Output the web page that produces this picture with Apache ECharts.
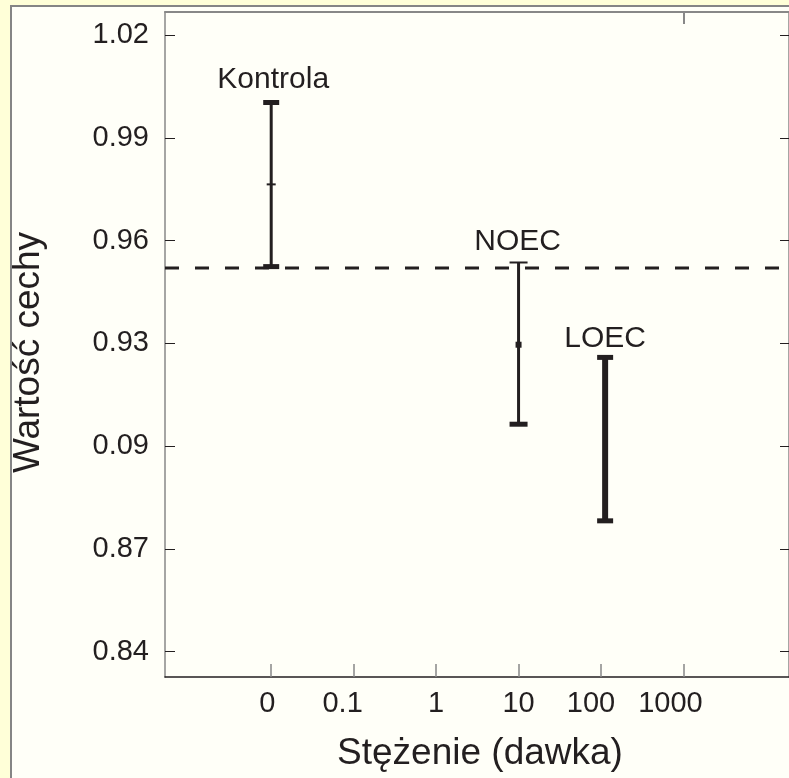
<!DOCTYPE html>
<html>
<head>
<meta charset="utf-8">
<script src="https://cdn.jsdelivr.net/npm/echarts@6/dist/echarts.min.js"></script>
<style>
  html, body { margin: 0; padding: 0; background: #FFFFD8; }
  #chart { width: 789px; height: 778px; }
</style>
</head>
<body>
<div id="chart"></div>
<script>
// kategorie na osi X (pozycje 0..5) i ich opisy
var xTickValues = [0, 1, 2, 3, 4, 5];
var xTickLabels = ['0', '0.1', '1', '10', '100', '1000'];

// osie Y - podziałka i opisy (opis "0.09" jak w oryginale)
var yTickValues = [0.84, 0.87, 0.90, 0.93, 0.96, 0.99, 1.02];
var yTickLabels = ['0.84', '0.87', '0.09', '0.93', '0.96', '0.99', '1.02'];

// przedziały
var barNames = ['Kontrola', 'NOEC', 'LOEC'];
var barX = [0, 3, 4.05];
var barLow = [0.9524, 0.9064, 0.8782];
var barHigh = [1.0003, 0.9536, 0.9259];
var barMid = [0.9764, 0.9296, null];

// linia odniesienia
var refLevel = 0.952;

var xMin = -1.288, xMax = 6.28;
var yMin = 0.83262, yMax = 1.02671;

var ink = '#231f20';
var font = 'Liberation Sans, Arial, Helvetica, sans-serif';

// wygląd poszczególnych słupków błędu
var barStyles = [
  { stem: 3, cap: 16, topCap: 5, bottomCap: 5, mid: 'tick', labelDx: 2, labelGap: 23 },
  { stem: 3, cap: 18, topCap: 2, bottomCap: 5, mid: 'square', labelDx: -1, labelGap: 21 },
  { stem: 6, cap: 16, topCap: 5, bottomCap: 5, mid: null, labelDx: 0, labelGap: 19 }
];

// przesunięcia opisów osi X (w oryginale nie są idealnie pod kreskami)
var xLabelShift = [-4, -11, 0, 0, -10, -13];

var barData = [];
for (var i = 0; i < barX.length; i++) {
  barData.push([barX[i], barLow[i], barHigh[i], barMid[i] == null ? '-' : barMid[i]]);
}

var xRich = {};
for (var k = 0; k < xTickLabels.length; k++) {
  var s = xLabelShift[k];
  xRich['s' + k] = {
    fontSize: 29, fontFamily: font, color: ink,
    padding: s < 0 ? [0, -2 * s, 0, 0] : [0, 0, 0, 2 * s]
  };
}

function yLabel(v) {
  for (var j = 0; j < yTickValues.length; j++) {
    if (Math.abs(yTickValues[j] - v) < 1e-6) return yTickLabels[j];
  }
  return '';
}

var chart = echarts.init(document.getElementById('chart'));
chart.setOption({
  backgroundColor: '#FFFFD8',
  animation: false,
  graphic: [{
    type: 'rect',
    z: -10,
    shape: { x: 11, y: 6, width: 800, height: 800 },
    style: { fill: '#FFFFF8', stroke: '#858585', lineWidth: 2 }
  }],
  grid: { left: 165, top: 12, right: -2, bottom: 101 },
  xAxis: [{
    type: 'value',
    min: xMin,
    max: xMax,
    name: 'Stężenie (dawka)',
    nameLocation: 'middle',
    nameGap: 58,
    nameTextStyle: { fontSize: 37, fontFamily: font, color: ink, padding: [0, 0, 0, 6] },
    splitLine: { show: false },
    axisLine: { show: true, onZero: false, lineStyle: { color: ink, width: 1.5 } },
    axisTick: { show: true, inside: true, length: 13, customValues: xTickValues, lineStyle: { color: '#888', width: 1.5 } },
    axisLabel: {
      customValues: xTickValues,
      margin: 12,
      rich: xRich,
      formatter: function (v) {
        var idx = xTickValues.indexOf(Math.round(v));
        return idx < 0 ? '' : '{s' + idx + '|' + xTickLabels[idx] + '}';
      }
    }
  }, {
    type: 'value',
    position: 'top',
    min: xMin,
    max: xMax,
    splitLine: { show: false },
    axisLine: { show: true, onZero: false, lineStyle: { color: '#888', width: 2 } },
    axisTick: { show: true, inside: true, length: 12, customValues: [5], lineStyle: { color: '#888', width: 2 } },
    axisLabel: { show: false }
  }],
  yAxis: [{
    type: 'value',
    min: yMin,
    max: yMax,
    name: 'Wartość cechy',
    nameLocation: 'middle',
    nameGap: 118,
    nameTextStyle: { fontSize: 37, fontFamily: font, color: ink, padding: [0, 16, 0, 0] },
    splitLine: { show: false },
    axisLine: { show: true, onZero: false, lineStyle: { color: '#888', width: 1.5 } },
    axisTick: { show: true, inside: true, length: 10, customValues: yTickValues, lineStyle: { color: ink, width: 1 } },
    axisLabel: {
      customValues: yTickValues,
      margin: 16,
      fontSize: 29,
      fontFamily: font,
      color: ink,
      formatter: yLabel
    }
  }, {
    type: 'value',
    position: 'right',
    min: yMin,
    max: yMax,
    splitLine: { show: false },
    axisLine: { show: true, onZero: false, lineStyle: { color: '#888', width: 1.5 } },
    axisTick: { show: true, inside: true, length: 9, customValues: yTickValues, lineStyle: { color: ink, width: 1 } },
    axisLabel: { show: false }
  }],
  series: [{
    type: 'line',
    data: [[xMin, refLevel], [xMax, refLevel]],
    symbol: 'none',
    silent: true,
    lineStyle: { color: ink, width: 3, type: [14, 16] }
  }, {
    type: 'custom',
    data: barData,
    encode: { x: 0, y: [1, 2] },
    renderItem: function (params, api) {
      var i = params.dataIndex;
      var st = barStyles[i];
      var x = api.value(0);
      var lo = api.coord([x, api.value(1)]);
      var hi = api.coord([x, api.value(2)]);
      var half = st.cap / 2;
      var children = [
        { type: 'line', shape: { x1: lo[0], y1: lo[1], x2: hi[0], y2: hi[1] }, style: { stroke: ink, lineWidth: st.stem } },
        { type: 'line', shape: { x1: hi[0] - half, y1: hi[1], x2: hi[0] + half, y2: hi[1] }, style: { stroke: ink, lineWidth: st.topCap } },
        { type: 'line', shape: { x1: lo[0] - half, y1: lo[1], x2: lo[0] + half, y2: lo[1] }, style: { stroke: ink, lineWidth: st.bottomCap } },
        {
          type: 'text',
          x: hi[0] + st.labelDx,
          y: hi[1] - st.labelGap,
          style: { text: barNames[i], fill: ink, fontSize: 30, fontFamily: font, align: 'center', verticalAlign: 'middle' }
        }
      ];
      var m = api.value(3);
      if (st.mid && !isNaN(m)) {
        var pm = api.coord([x, m]);
        if (st.mid === 'tick') {
          children.push({ type: 'line', shape: { x1: pm[0] - 4.5, y1: pm[1], x2: pm[0] + 4.5, y2: pm[1] }, style: { stroke: ink, lineWidth: 2 } });
        } else {
          children.push({ type: 'rect', shape: { x: pm[0] - 3, y: pm[1] - 3, width: 6, height: 6 }, style: { fill: ink } });
        }
      }
      return { type: 'group', children: children };
    }
  }]
});
</script>
</body>
</html>
